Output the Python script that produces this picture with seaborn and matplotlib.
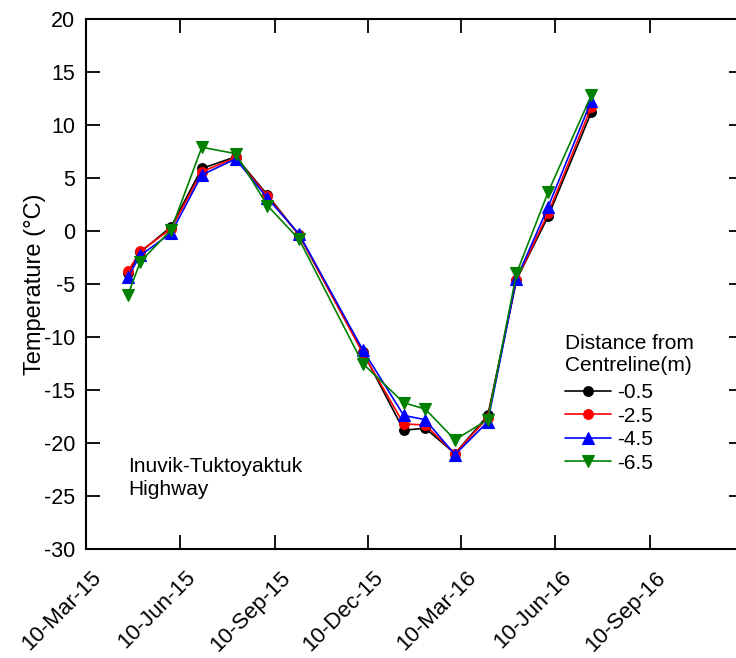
import matplotlib
matplotlib.use("Agg")
import matplotlib.pyplot as plt
import matplotlib.dates as mdates
import matplotlib.transforms as mtransforms
import numpy as np
import pandas as pd
import seaborn as sns

# Survey dates
dates = pd.to_datetime([
    "2015-04-20", "2015-05-02", "2015-06-01", "2015-07-01", "2015-08-03",
    "2015-09-03", "2015-10-04", "2015-12-05", "2016-01-14", "2016-02-04",
    "2016-03-04", "2016-04-05", "2016-05-03", "2016-06-03", "2016-07-15",
])

# Ground temperature (°C) at each offset from the road centreline
t_05 = [-4.0, -2.0, 0.4, 5.9, 7.0, 3.4, -0.4, -11.4, -18.8, -18.6, -21.0, -17.4, -4.6, 1.4, 11.2]
t_25 = [-3.8, -1.9, 0.2, 5.6, 6.9, 3.3, -0.4, -11.5, -18.2, -18.3, -21.0, -17.6, -4.6, 1.7, 11.7]
t_45 = [-4.3, -2.3, -0.2, 5.3, 6.8, 3.1, -0.3, -11.2, -17.4, -17.8, -21.1, -18.0, -4.5, 2.3, 12.3]
t_65 = [-6.0, -2.9, 0.1, 7.9, 7.3, 2.4, -0.8, -12.5, -16.2, -16.8, -19.7, -17.8, -4.0, 3.7, 12.8]

series_labels = ["-0.5", "-2.5", "-4.5", "-6.5"]
series_values = [t_05, t_25, t_45, t_65]
colors = ["#000000", "#ff0000", "#0000ff", "#008000"]
markers = ["o", "o", "^", "v"]
msizes = [7, 7, 8.5, 8.5]

xticks = pd.to_datetime(["2015-03-10", "2015-06-10", "2015-09-10", "2015-12-10",
                         "2016-03-10", "2016-06-10", "2016-09-10"])

sns.set_style("ticks")
plt.rcParams["font.family"] = ["Liberation Sans", "DejaVu Sans"]
plt.rcParams["axes.unicode_minus"] = False
plt.rcParams["text.color"] = "black"
plt.rcParams["axes.labelcolor"] = "black"

fig = plt.figure(figsize=(7.36, 6.58), dpi=100)
ax = fig.add_axes([86 / 736, 109 / 658, 657 / 736, 530 / 658])

for lab, vals, c, m, ms in zip(series_labels, series_values, colors, markers, msizes):
    df = pd.DataFrame({"date": dates, "temp": vals})
    sns.lineplot(data=df, x="date", y="temp", ax=ax, color=c, marker=m,
                 markersize=ms, markeredgecolor=c, markeredgewidth=0.8,
                 linewidth=1.2, label=lab, estimator=None)

ax.set_xlim(pd.Timestamp("2015-03-10"), pd.Timestamp("2016-12-10"))
ax.set_ylim(-30, 20)
ax.set_yticks(np.arange(-30, 21, 5))
ax.set_xticks(xticks)
ax.xaxis.set_major_formatter(mdates.DateFormatter("%d-%b-%y"))

for side in ["top", "right", "left", "bottom"]:
    ax.spines[side].set_visible(True)
    ax.spines[side].set_linewidth(1.5)
    ax.spines[side].set_color("black")

ax.tick_params(axis="both", which="major", direction="in", length=10, width=1.3,
               top=True, right=True, pad=8, colors="black")
ax.tick_params(axis="y", labelsize=15.5)
ax.tick_params(axis="x", labelsize=16, pad=13)

# rotated date labels, nudged slightly right of their ticks
shift = mtransforms.ScaledTranslation(0.05, 0, fig.dpi_scale_trans)
for lbl in ax.get_xticklabels():
    lbl.set_rotation(45)
    lbl.set_ha("right")
    lbl.set_rotation_mode("anchor")
    lbl.set_transform(lbl.get_transform() + shift)

ax.set_xlabel("")
ax.set_ylabel("Temperature (°C)", fontsize=17, labelpad=-2)

ax.text(pd.Timestamp("2015-04-20"), -23.3, "Inuvik-Tuktoyaktuk\nHighway",
        fontsize=15, va="center", ha="left", linespacing=1.3)

leg = ax.legend(title="Distance from\nCentreline(m)", loc="upper left",
                bbox_to_anchor=(550 / 736, 1 - 319 / 658), bbox_transform=fig.transFigure,
                frameon=False, fontsize=15, title_fontsize=15, handlelength=2.25,
                handletextpad=0.25, labelspacing=0.22, borderpad=0.2,
                alignment="left")
leg._legend_box.sep = 6

fig.savefig("out.png", dpi=100)
